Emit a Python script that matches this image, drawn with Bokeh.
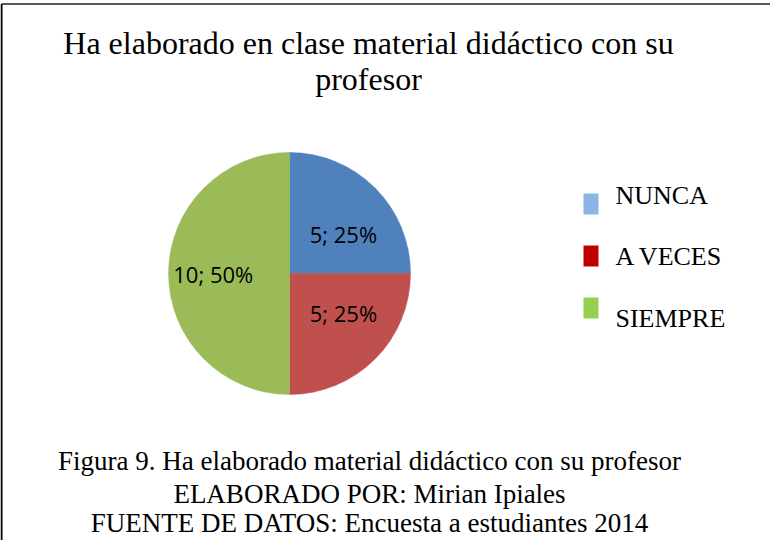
import math
from bokeh.plotting import figure
from bokeh.models import Range1d, ColumnDataSource
from bokeh.core.properties import value
from bokeh.embed import file_html
from bokeh.resources import INLINE

# ---- data ----
categories = ["NUNCA", "A VECES", "SIEMPRE"]
counts = [5, 5, 10]
slice_colors = ["#4F81BD", "#C0504D", "#9BBB59"]
legend_colors = ["#8EB4E3", "#C00000", "#92D050"]
title_lines = ["Ha elaborado en clase material didáctico con su", "profesor"]
caption_lines = [
    "Figura 9. Ha elaborado material didáctico con su profesor",
    "ELABORADO POR: Mirian Ipiales",
    "FUENTE DE DATOS: Encuesta a estudiantes 2014",
]

W, H = 770, 540
p = figure(width=W, height=H, output_backend="svg", toolbar_location=None,
           x_range=Range1d(0, W), y_range=Range1d(0, H), min_border=0)
p.axis.visible = False
p.grid.visible = False
p.outline_line_color = None
p.background_fill_color = "white"
p.border_fill_color = "white"

# frame lines (top and left)
p.line(x=[1, W], y=[H - 3.5, H - 3.5], line_color="#595959", line_width=2)
p.line(x=[1, 1], y=[0, H - 3.5], line_color="#000000", line_width=2)

# ---- pie ----
cx, cy, r = 289, 267, 121
total = sum(counts)
starts, ends, lx, ly, labels = [], [], [], [], []
cum = 0
for c in counts:
    a0 = math.pi / 2 - 2 * math.pi * cum / total
    cum += c
    a1 = math.pi / 2 - 2 * math.pi * cum / total
    starts.append(a0)
    ends.append(a1)
    mid = (a0 + a1) / 2
    lx.append(cx + 0.63 * r * math.cos(mid))
    ly.append(cy + 0.46 * r * math.sin(mid))
    labels.append(f"{c}; {round(100 * c / total)}%")

src = ColumnDataSource(dict(start=starts, end=ends, color=slice_colors,
                            lx=lx, ly=ly, label=labels))
p.wedge(x=cx, y=cy, radius=r, start_angle="start", end_angle="end",
        direction="clock", fill_color="color", line_color="color",
        line_width=0.5, source=src)
p.text(x="lx", y="ly", text="label", source=src, text_font=value("Open Sans"),
       text_font_size="22px", text_color="#000000", text_align="center",
       text_baseline="middle")

# ---- title ----
p.text(x=[368, 368], y=[497.5, 461.5], text=title_lines,
       text_font=value("Liberation Serif"), text_font_size="32px",
       text_color="#000000", text_align="center", text_baseline="middle")

# ---- legend ----
sq_y = [336.5 - i * 52 for i in range(len(categories))]
tx_y = [345.5 - i * 61.5 for i in range(len(categories))]
p.rect(x=[590.5] * len(categories), y=sq_y, width=15, height=21,
       fill_color=legend_colors, line_color=None)
p.text(x=[615] * len(categories), y=tx_y, text=categories,
       text_font=value("Liberation Serif"), text_font_size="26px",
       text_color="#000000", text_align="left", text_baseline="middle")

# ---- caption ----
p.text(x=[369] * 3, y=[80, 47, 18], text=caption_lines,
       text_font=value("Liberation Serif"), text_font_size="27px",
       text_color="#000000", text_align="center", text_baseline="middle")

open("out.html", "w").write(file_html(p, INLINE))
